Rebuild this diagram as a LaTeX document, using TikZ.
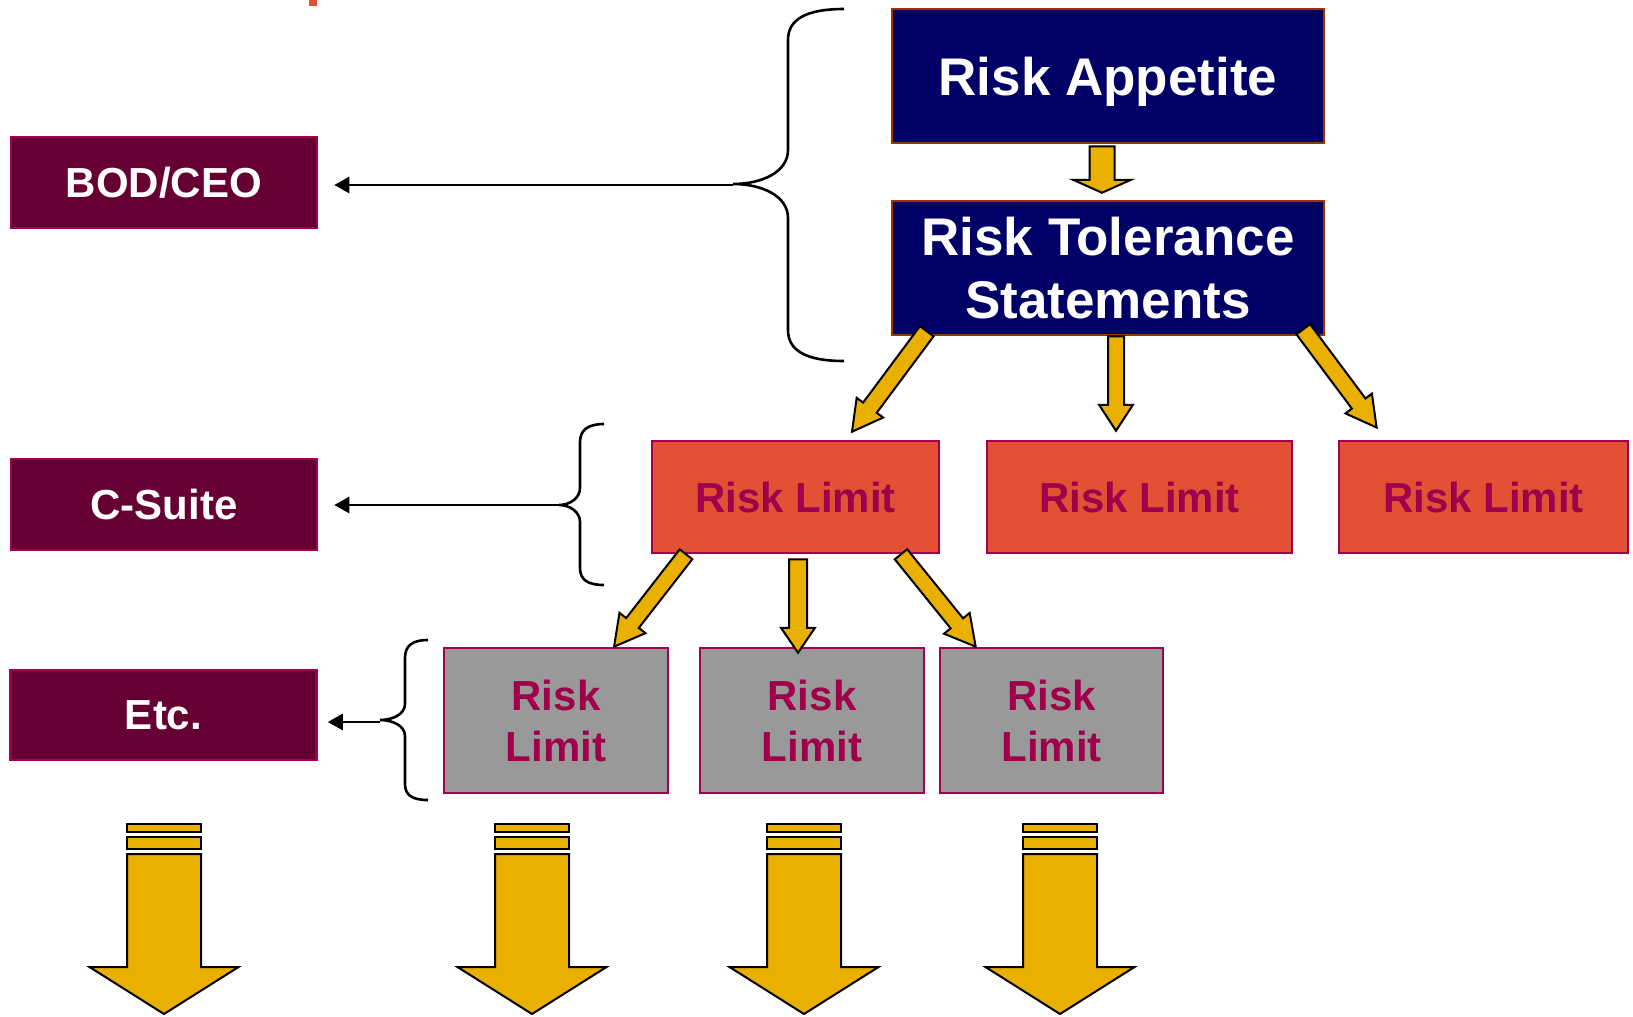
\documentclass[tikz,border=0pt]{standalone}
\usepackage{fontspec}
\setmainfont{Liberation Sans}
\usetikzlibrary{arrows.meta,calc}
\definecolor{maroonbox}{HTML}{660033}
\definecolor{pinkedge}{HTML}{A3004F}
\definecolor{navybox}{HTML}{000066}
\definecolor{brownedge}{HTML}{993300}
\definecolor{redbox}{HTML}{E35034}
\definecolor{greybox}{HTML}{999999}
\definecolor{limittext}{HTML}{A0004B}
\definecolor{goldfill}{HTML}{EAB000}
\definecolor{titleorange}{HTML}{E35034}
\tikzset{
  boxbase/.style={rectangle, inner sep=0pt, line width=2.5pt, align=center, font=\bfseries},
  rolebox/.style={boxbase, fill=maroonbox, draw=pinkedge, text=white,
     minimum width=306pt, minimum height=91pt, font=\bfseries\fontsize{42}{50}\selectfont},
  topbox/.style={boxbase, fill=navybox, draw=brownedge, text=white,
     minimum width=432pt, minimum height=134pt, font=\bfseries\fontsize{53}{63}\selectfont},
  redlimit/.style={boxbase, fill=redbox, draw=pinkedge, text=limittext,
     minimum height=112pt, font=\bfseries\fontsize{42}{50}\selectfont},
  greylimit/.style={boxbase, fill=greybox, draw=pinkedge, text=limittext,
     minimum width=224pt, minimum height=145pt, font=\bfseries\fontsize{42}{51}\selectfont},
  barrow/.style={draw=black, fill=goldfill, line width=2pt, line join=miter},
  bracestyle/.style={draw=black, line width=2.6pt},
  pointer/.style={draw=black, line width=2.6pt, -{Triangle[length=15pt,width=16pt]}},
}
% start, tip, shaft half-width, head half-width, head length (numbers in pt)
\newcommand\blockarrow[5]{%
  \draw[barrow] let \p1=(#1), \p2=(#2),
     \n1={atan2(\y2-\y1,\x2-\x1)}, \n2={veclen(\x2-\x1,\y2-\y1)} in
     [shift={(\p1)}, rotate=\n1]
     (0pt,-#3pt) -- (\n2-#5pt,-#3pt) -- (\n2-#5pt,-#4pt) -- (\n2,0pt)
     -- (\n2-#5pt,#4pt) -- (\n2-#5pt,#3pt) -- (0pt,#3pt) -- cycle;}
\begin{document}
\begin{tikzpicture}[x=1pt,y=-1pt]
\useasboundingbox (0,0) rectangle (1633,1017);
\fill[titleorange] (309,0) rectangle (317,6);

% role boxes
\node[rolebox] (bod) at (164,182.5) {BOD/CEO};
\node[rolebox] (csuite) at (164,504.5) {C-Suite};
\node[rolebox, minimum height=90pt] (etc) at (163.5,715) {Etc.};

% top boxes
\node[topbox, text depth=0pt] (app) at (1108,76) {Risk Appetite};
\node[topbox] (tol) at (1108,268) {Risk Tolerance\\Statements};

% red limits
\node[redlimit, minimum width=287pt] (red1) at (795.5,497) {Risk Limit};
\node[redlimit, minimum width=305pt] (red2) at (1139.5,497) {Risk Limit};
\node[redlimit, minimum width=289pt] (red3) at (1483.5,497) {Risk Limit};

% grey limits
\node[greylimit] (grey1) at (556,720.5) {Risk\\Limit};
\node[greylimit] (grey2) at (812,720.5) {Risk\\Limit};
\node[greylimit, minimum width=223pt] (grey3) at (1051.5,720.5) {Risk\\Limit};

% block arrows
\blockarrow{[xshift=-6pt,yshift=-2pt]app.south}{[xshift=-6pt,yshift=7pt]tol.north}{12.5}{29}{13}
\blockarrow{[xshift=36pt,yshift=5pt]tol.south west}{[xshift=56.5pt,yshift=8pt]red1.north}{8.5}{16.5}{30}
\blockarrow{[xshift=8pt,yshift=0pt]tol.south}{[xshift=-23.5pt,yshift=9pt]red2.north}{8}{17}{26}
\blockarrow{[xshift=-22pt,yshift=7pt]tol.south east}{[xshift=39pt,yshift=12pt]red3.north west}{8.5}{16.5}{30}
\blockarrow{[xshift=-109.5pt]red1.south}{[xshift=58pt]grey1.north}{8}{16.5}{30}
\blockarrow{[xshift=2.5pt,yshift=-5pt]red1.south}{[xshift=-14pt,yshift=-6pt]grey2.north}{9}{17}{25}
\blockarrow{[xshift=105.5pt]red1.south}{[xshift=37pt]grey3.north west}{8}{16.5}{30}

% braces
\coordinate (b1tip) at (733,184);
\draw[bracestyle] (844,9) .. controls (805,9) and (788,20) .. (788,40) -- (788,150)
  .. controls (788,172) and (762,184) .. (b1tip)
  .. controls (762,184) and (788,196) .. (788,218) -- (788,330)
  .. controls (788,350) and (805,361) .. (844,361);
\coordinate (b2tip) at (559,505);
\draw[bracestyle] (604,424) .. controls (588,424) and (580,430) .. (580,442) -- (580,488)
  .. controls (580,498) and (570,505) .. (b2tip)
  .. controls (570,505) and (580,512) .. (580,522) -- (580,568)
  .. controls (580,580) and (588,585) .. (604,585);
\coordinate (b3tip) at (380,720);
\draw[bracestyle] (428,640) .. controls (412,640) and (405,646) .. (405,658) -- (405,704)
  .. controls (405,714) and (393,720) .. (b3tip)
  .. controls (393,720) and (405,726) .. (405,736) -- (405,784)
  .. controls (405,795) and (412,800) .. (428,800);

% pointers to roles
\coordinate (bodin) at ([xshift=16pt,yshift=-2.5pt]bod.east);
\coordinate (csin) at ([xshift=16pt,yshift=-0.5pt]csuite.east);
\coordinate (etcin) at ([xshift=10pt,yshift=-7pt]etc.east);
\draw[pointer] (b1tip |- bodin) -- (bodin);
\draw[pointer] (b2tip) -- (csin);
\draw[pointer] (b3tip |- etcin) -- (etcin);

% continuation arrows
\foreach \c in {164,532,804,1060} {
  \draw[barrow] (\c-37,824) rectangle (\c+37,832);
  \draw[barrow] (\c-37,837) rectangle (\c+37,849);
  \draw[barrow] (\c-37,854) -- (\c+37,854) -- (\c+37,967) -- (\c+74.5,967)
     -- (\c,1014) -- (\c-74.5,967) -- (\c-37,967) -- cycle;
}
\end{tikzpicture}
\end{document}
